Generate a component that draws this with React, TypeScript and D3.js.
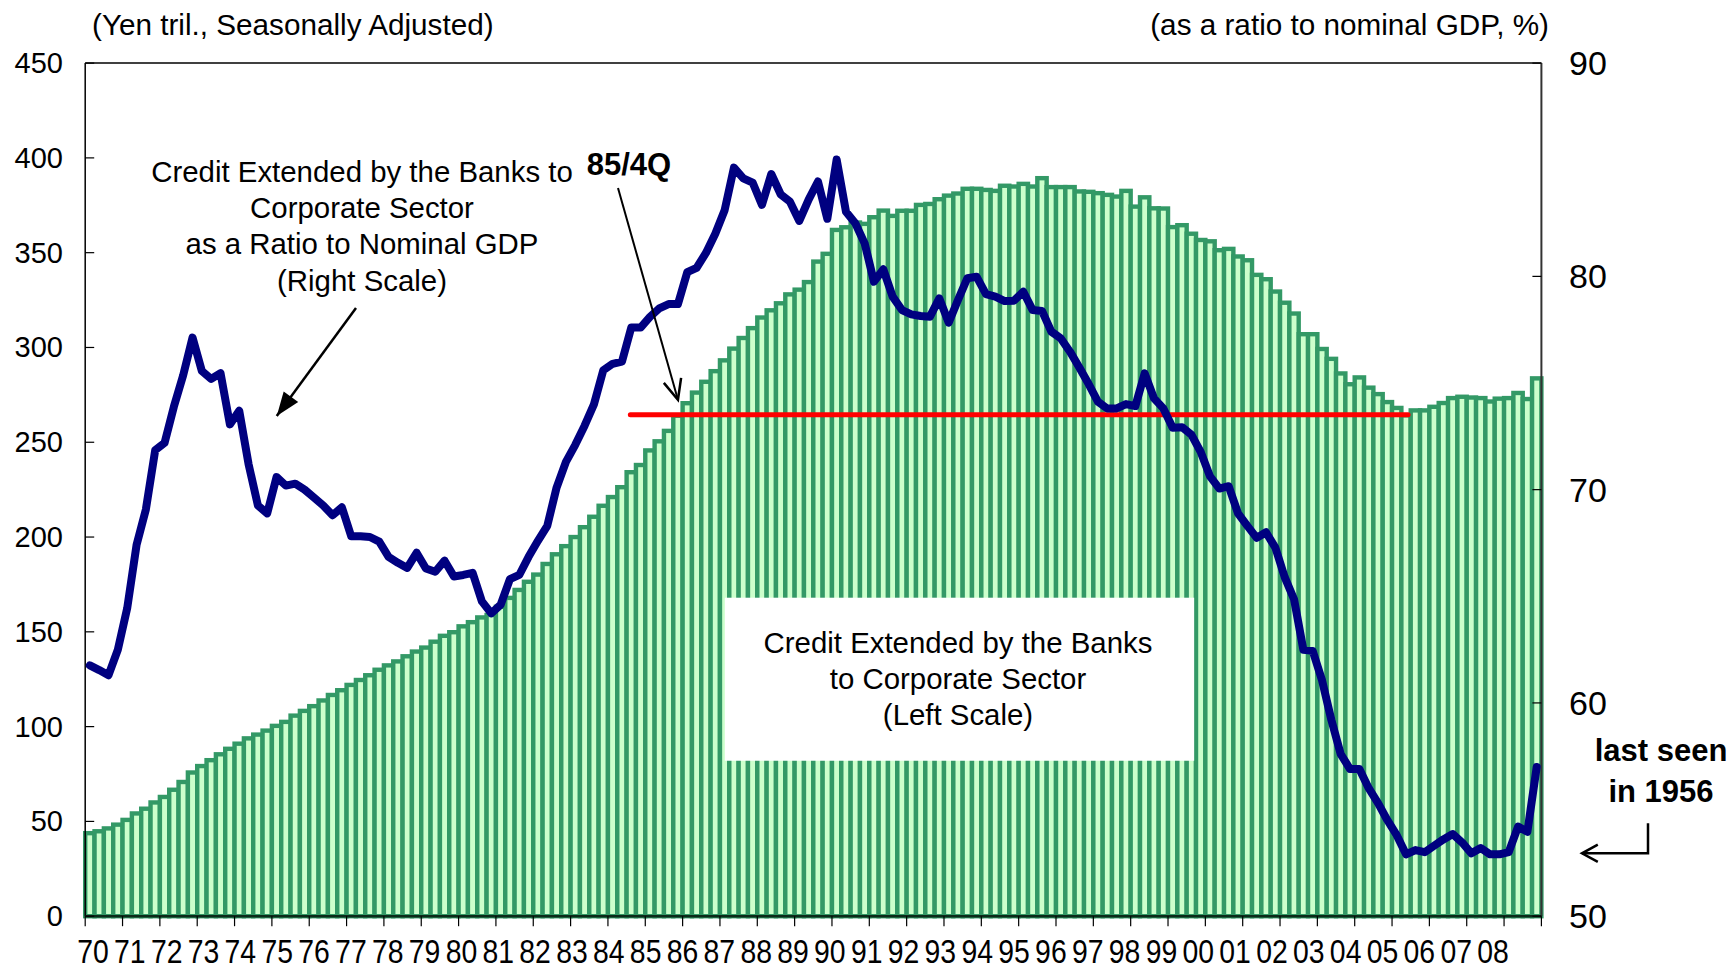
import React from 'react';
import * as d3 from 'd3';

const W = 1735;
const H = 970;
const FONT = 'Liberation Sans, Arial, Helvetica, sans-serif';

// Quarterly data, 1970Q1 .. 2008Q4
const startYear = 1970;
const endYear = 2009;
const yearLabels = ['70','71','72','73','74','75','76','77','78','79','80','81','82','83','84','85','86','87','88','89','90','91','92','93','94','95','96','97','98','99','00','01','02','03','04','05','06','07','08'];
const leftTicks = [0, 50, 100, 150, 200, 250, 300, 350, 400, 450];
const rightTicks = [50, 60, 70, 80, 90];

// Credit extended by banks to corporate sector (Yen tril., left scale)
const creditBars = [
  43.8, 44.8, 46.3, 48.3,
  50.8, 54.2, 56.7, 60.0,
  62.9, 66.7, 70.8, 75.8,
  79.2, 82.3, 85.4, 88.3,
  91.0, 93.8, 95.8, 97.9,
  100.4, 102.5, 105.8, 108.3,
  110.8, 113.8, 116.7, 119.2,
  122.0, 124.6, 127.1, 130.0,
  132.3, 134.4, 137.1, 139.6,
  141.7, 144.8, 147.9, 149.8,
  152.9, 155.1, 157.6, 158.9,
  163.2, 167.9, 172.1, 176.4,
  180.2, 185.8, 190.9, 195.2,
  200.0, 205.2, 210.7, 216.5,
  221.1, 226.3, 234.2, 238.0,
  245.7, 250.5, 256.0, 264.0,
  270.6, 276.2, 281.9, 287.5,
  293.2, 299.4, 305.0, 310.2,
  315.8, 319.6, 323.3, 328.0,
  330.5, 334.5, 345.3, 349.4,
  362.0, 363.4, 365.9, 365.2,
  368.7, 372.2, 369.4, 372.1,
  372.1, 375.2, 375.7, 378.2,
  380.1, 381.2, 383.7, 383.7,
  383.1, 382.6, 385.3, 384.9,
  386.3, 384.9, 389.3, 384.6,
  384.6, 384.6, 382.3, 382.1,
  381.4, 380.5, 379.6, 382.6,
  374.3, 379.2, 373.4, 373.3,
  363.5, 364.5, 360.0, 356.7,
  356.0, 351.3, 352.0, 348.0,
  346.0, 338.3, 336.0, 329.5,
  323.6, 317.9, 307.0, 307.0,
  299.2, 294.0, 286.3, 280.6,
  284.2, 278.8, 275.4, 271.2,
  268.1, 264.2, 266.8, 266.8,
  268.7, 270.7, 273.3, 274.0,
  273.6, 273.3, 271.5, 273.0,
  273.3, 276.0, 272.8, 283.7,
];

// Ratio to nominal GDP (%, right scale)
const ratioLine = [
  61.76, 61.54, 61.3, 62.5,
  64.44, 67.4, 69.07, 71.85,
  72.19, 73.89, 75.37, 77.13,
  75.56, 75.19, 75.46, 73.06,
  73.7, 71.2, 69.26, 68.89,
  70.59, 70.19, 70.28, 70.0,
  69.63, 69.26, 68.8, 69.17,
  67.81, 67.81, 67.78, 67.56,
  66.85, 66.57, 66.33, 67.04,
  66.3, 66.15, 66.67, 65.93,
  66.0, 66.1, 64.76, 64.2,
  64.6, 65.8, 66.0, 66.85,
  67.6, 68.3, 70.1, 71.3,
  72.1, 73.0, 74.0, 75.6,
  75.9, 76.0, 77.6, 77.6,
  78.1, 78.5, 78.7, 78.7,
  80.2, 80.4, 81.1, 82.0,
  83.1, 85.1, 84.6, 84.4,
  83.35, 84.8, 83.85, 83.5,
  82.6, 83.6, 84.45, 82.7,
  85.48, 83.03, 82.49, 81.55,
  79.75, 80.33, 79.05, 78.42,
  78.22, 78.14, 78.11, 78.97,
  77.83, 78.89, 79.91, 79.98,
  79.17, 79.05, 78.84, 78.86,
  79.28, 78.42, 78.38, 77.41,
  77.1, 76.47, 75.73, 74.95,
  74.12, 73.8, 73.81, 74.01,
  73.92, 75.45, 74.28, 73.81,
  72.9, 72.93, 72.58, 71.77,
  70.62, 70.05, 70.16, 68.89,
  68.3, 67.74, 68.0, 67.28,
  65.9, 64.86, 62.49, 62.44,
  61.06, 59.2, 57.6, 56.9,
  56.9, 56.0, 55.3, 54.5,
  53.8, 52.9, 53.1, 53.0,
  53.3, 53.6, 53.85, 53.46,
  52.95, 53.2, 52.9, 52.9,
  53.0, 54.2, 53.96, 57.0,
];

// Reference level (85/4Q level reached again in 2005)
const refLevel = 264.5;
const refStart = 1984.6;
const refEnd = 2005.43;

const leftNote = ['Credit Extended by the Banks to', 'Corporate Sector', 'as a Ratio to Nominal GDP', '(Right Scale)'];
const boxNote = ['Credit Extended by the Banks', 'to Corporate Sector', '(Left Scale)'];

const PL = 85.2, PR = 1541.4, PT = 63.1, PB = 916.2;

function openHead(tx: number, ty: number, fx: number, fy: number, len = 22, ang = 0.42) {
  const a = Math.atan2(fy - ty, fx - tx);
  const x1 = tx + len * Math.cos(a + ang), y1 = ty + len * Math.sin(a + ang);
  const x2 = tx + len * Math.cos(a - ang), y2 = ty + len * Math.sin(a - ang);
  return `M${x1},${y1}L${tx},${ty}L${x2},${y2}`;
}
function filledHead(tx: number, ty: number, fx: number, fy: number, len = 24, half = 9) {
  const a = Math.atan2(fy - ty, fx - tx);
  const bx = tx + len * Math.cos(a), by = ty + len * Math.sin(a);
  const px = -Math.sin(a) * half, py = Math.cos(a) * half;
  return `M${tx},${ty}L${bx + px},${by + py}L${bx - px},${by - py}Z`;
}

export default function App() {
  const xs = d3.scaleLinear().domain([startYear, endYear]).range([PL, PR]);
  const yL = d3.scaleLinear().domain([0, 450]).range([PB, PT]);
  const yR = d3.scaleLinear().domain([50, 90]).range([PB, PT]);
  const xLab = d3.scalePoint<string>().domain(yearLabels).range([93, 1493]);
  const qw = xs(startYear + 0.25) - xs(startYear);
  const qx = (i: number) => xs(startYear + i / 4);
  const qc = (i: number) => xs(startYear + (i + 0.5) / 4);

  const linePath = d3.line<number>().x((_, i) => qc(i)).y((d) => yR(d))(ratioLine) || '';

  const years = d3.range(startYear, endYear + 1);

  // box around the left-scale label
  const boxX0 = xs(1987.13), boxX1 = xs(1999.7);
  const boxY0 = yL(168), boxY1 = yL(82);

  // 85/4Q arrow
  const idx854 = (1985 - startYear) * 4 + 3;
  const a1tx = qc(idx854), a1ty = yL(creditBars[idx854]) - 16;
  const a1fx = 618, a1fy = 188;

  // left note arrow
  const a2tx = xs(1975.13), a2ty = yR(73.45);
  const a2fx = 356, a2fy = 308;

  // elbow arrow to "last seen"
  const elbowY = yR(52.95);
  const elbowX = 1648, elbowTipX = 1582;

  return (
    <svg width={W} height={H} style={{ position: 'absolute', left: 0, top: 0, background: '#fff' }} fontFamily={FONT}>
      <rect x={0} y={0} width={W} height={H} fill="#fff" />
      {/* bars */}
      <g>
        {creditBars.map((v, i) => (
          <rect key={i} x={qx(i)} y={yL(v)} width={qw} height={yL(0) - yL(v)} fill="#ccffcc" stroke="#339966" strokeWidth={4.4} />
        ))}
      </g>
      {/* white box with label */}
      <rect x={boxX0} y={boxY0} width={boxX1 - boxX0} height={boxY1 - boxY0} fill="#fff" />
      {/* frame */}
      <line x1={PL} y1={PT} x2={PR} y2={PT} stroke="#000" strokeWidth={1.5} />
      <line x1={PL} y1={PT} x2={PL} y2={PB} stroke="#000" strokeWidth={1.5} />
      <line x1={PR} y1={PT} x2={PR} y2={PB} stroke="#333" strokeWidth={2} />
      <line x1={PL} y1={PB} x2={PR} y2={PB} stroke="#0a2a18" strokeWidth={2.5} />
      {/* left ticks */}
      {leftTicks.map((t) => (
        <g key={'l' + t}>
          <line x1={PL} x2={PL + 9} y1={yL(t)} y2={yL(t)} stroke="#000" strokeWidth={1.2} />
          <text x={63} y={yL(t)} textAnchor="end" dominantBaseline="central" fontSize={29}>{t}</text>
        </g>
      ))}
      {/* right ticks */}
      {rightTicks.map((t) => (
        <g key={'r' + t}>
          <line x1={PR - 9} x2={PR} y1={yR(t)} y2={yR(t)} stroke="#000" strokeWidth={1.2} />
          <text x={1569} y={yR(t)} textAnchor="start" dominantBaseline="central" fontSize={34}>{t}</text>
        </g>
      ))}
      {/* x ticks */}
      {years.map((y) => (
        <line key={'x' + y} x1={xs(y)} x2={xs(y)} y1={PB} y2={PB + 10} stroke="#000" strokeWidth={1.2} />
      ))}
      {yearLabels.map((l) => (
        <text key={'xl' + l} transform={`translate(${xLab(l)},952) scale(0.86,1)`} textAnchor="middle" dominantBaseline="central" fontSize={33}>{l}</text>
      ))}
      {/* reference red line */}
      <line x1={xs(refStart)} x2={xs(refEnd)} y1={yL(refLevel)} y2={yL(refLevel)} stroke="#ff0000" strokeWidth={5} strokeLinecap="round" />
      {/* ratio line */}
      <path d={linePath} fill="none" stroke="#000080" strokeWidth={8} strokeLinejoin="round" strokeLinecap="round" />
      {/* titles */}
      <text x={92} y={24} dominantBaseline="central" fontSize={29.7}>(Yen tril., Seasonally Adjusted)</text>
      <text x={1549} y={24} textAnchor="end" dominantBaseline="central" fontSize={29.7}>(as a ratio to nominal GDP, %)</text>
      {/* left note */}
      {leftNote.map((s, i) => (
        <text key={'ln' + i} x={362} y={171.5 + i * 36.2} textAnchor="middle" dominantBaseline="central" fontSize={29.4}>{s}</text>
      ))}
      <line x1={a2fx} y1={a2fy} x2={a2tx} y2={a2ty} stroke="#000" strokeWidth={2.5} />
      <path d={filledHead(a2tx, a2ty, a2fx, a2fy)} fill="#000" />
      {/* 85/4Q */}
      <text x={629} y={164} textAnchor="middle" dominantBaseline="central" fontSize={31} fontWeight="bold">85/4Q</text>
      <line x1={a1fx} y1={a1fy} x2={a1tx} y2={a1ty} stroke="#000" strokeWidth={2} />
      <path d={openHead(a1tx, a1ty, a1fx, a1fy)} fill="none" stroke="#000" strokeWidth={2.5} />
      {/* box text */}
      {boxNote.map((s, i) => (
        <text key={'bn' + i} x={958} y={642 + i * 36} textAnchor="middle" dominantBaseline="central" fontSize={29.4}>{s}</text>
      ))}
      {/* last seen */}
      <text x={1661} y={750} textAnchor="middle" dominantBaseline="central" fontSize={31} fontWeight="bold">last seen</text>
      <text x={1661} y={791} textAnchor="middle" dominantBaseline="central" fontSize={31} fontWeight="bold">in 1956</text>
      <path d={`M${elbowX},${elbowY - 30}V${elbowY}H${elbowTipX}`} fill="none" stroke="#000" strokeWidth={2.5} />
      <path d={openHead(elbowTipX, elbowY, elbowX, elbowY, 18, 0.5)} fill="none" stroke="#000" strokeWidth={2.5} />
    </svg>
  );
}
